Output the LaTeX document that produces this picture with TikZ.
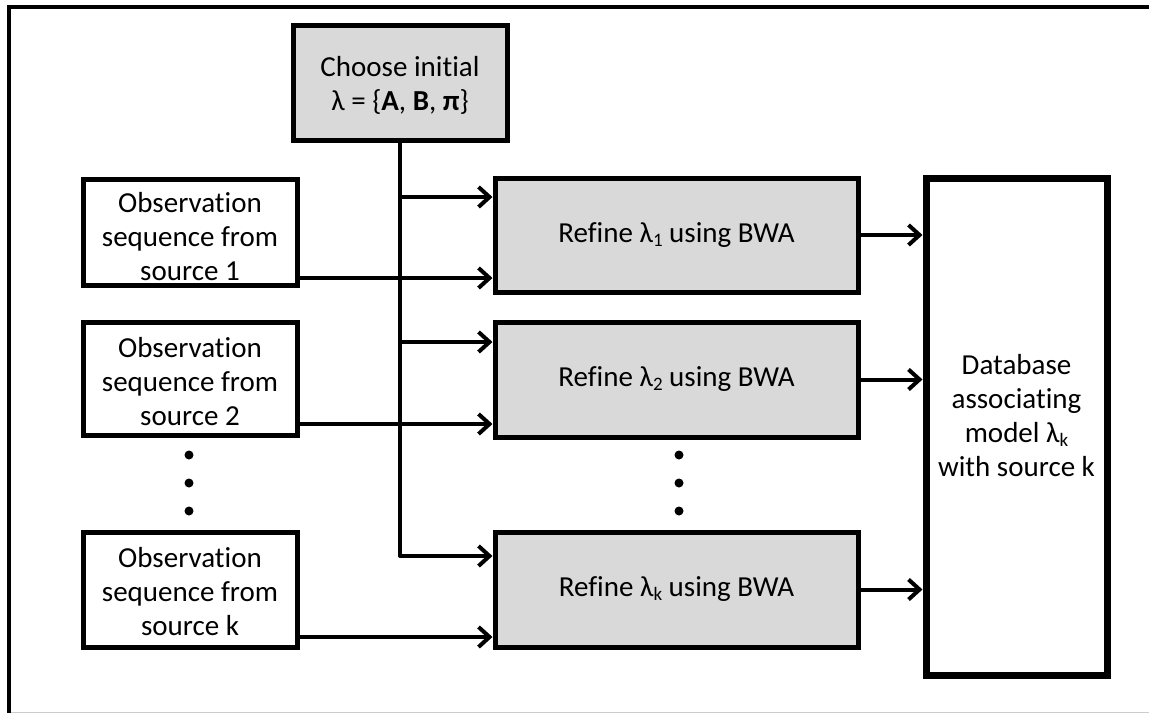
\documentclass[tikz,border=0pt]{standalone}
\usepackage{fontspec}
\setmainfont{Carlito}[RawFeature=-liga]
\usetikzlibrary{arrows.meta,calc}
\definecolor{boxgray}{HTML}{D9D9D9}
\definecolor{rulegray}{HTML}{CCCCCC}
% small lowered index, as in lambda_1
\newcommand{\idx}[1]{\raisebox{-4pt}{\fontsize{19}{19}\selectfont #1}}
\begin{document}
\begin{tikzpicture}[x=1pt,y=-1pt,
  txt/.style={font=\fontsize{29}{34}\selectfont, align=center, inner sep=0pt},
  box/.style={draw, line width=5pt, inner sep=0pt},
  graybox/.style={box, fill=boxgray},
  obsbox/.style={box, minimum width=214pt},
  refbox/.style={graybox, minimum width=363pt},
  wire/.style={line width=4pt},
  arr/.style={line width=4pt, -{Straight Barb[length=11pt,width=20pt]}, line cap=round, line join=round},
  dot/.style={circle, fill=black, inner sep=0pt, minimum size=9pt}
]
\useasboundingbox (0,0) rectangle (1149,713);
% outer frame
\draw[rulegray, line width=1pt] (9,712) -- (1149,712);
\draw[line width=4pt] (1149,7) -- (9,7) -- (9,713);

% initial model
\node[graybox, minimum width=214pt, minimum height=115pt] (init) at (400,82.5) {};
\node[txt] (initt) at (400,85) {Choose initial\\ λ = \{\textbf{A}, \textbf{B}, \textbf{π}\}};

% observation sequences
\node[obsbox, minimum height=106pt] (obs1) at (190,232) {};
\node[obsbox, minimum height=113pt] (obs2) at (190,378.5) {};
\node[obsbox, minimum height=115pt] (obsk) at (190,589.5) {};
\node[txt] (obs1t) at (190,237) {Observation\\ sequence from\\ source 1};
\node[txt] (obs2t) at (190,382) {Observation\\ sequence from\\ source 2};
\node[txt] (obskt) at (190,592) {Observation\\ sequence from\\ source k};

% refinement steps
\node[refbox, minimum height=114pt] (ref1) at (676.5,235) {};
\node[refbox, minimum height=115pt] (ref2) at (676.5,379.5) {};
\node[refbox, minimum height=115pt] (refk) at (676.5,589.5) {};
\node[txt] (ref1t) at (ref1) {Refine λ\idx{1} using BWA};
\node[txt] (ref2t) at (ref2) {Refine λ\idx{2} using BWA};
\node[txt] (refkt) at (refk) {Refine λ\idx{k} using BWA};

% database
\node[draw, line width=7pt, inner sep=0pt, minimum width=181pt, minimum height=497pt] (db) at (1016.5,426.5) {};
\node[txt] (dbtext) at (1016.5,416) {Database\\ associating\\ model λ\idx{k}\\ with source k};

% ellipsis dots
\node[dot] (ld1) at (189,455) {};
\node[dot] (ld2) at (189,483) {};
\node[dot] (ld3) at (189,511) {};
\node[dot] (md1) at (679,455) {};
\node[dot] (md2) at (679,483) {};
\node[dot] (md3) at (679,511) {};

% branch points on the trunk from the initial model
\coordinate (j1) at (init.south |- 0,197);
\coordinate (j2) at (init.south |- 0,342);
\coordinate (jk) at (init.south |- 0,556);
\draw[wire] (init.south) -- (jk);
\draw[arr] (j1) -- (j1 -| ref1.west);
\draw[arr] (j2) -- (j2 -| ref2.west);
\draw[arr] (jk) -- (jk -| refk.west);

% observation inputs
\coordinate (o1) at (obs1.east |- 0,278);
\coordinate (o2) at (obs2.east |- 0,424);
\coordinate (ok) at (obsk.east |- 0,637);
\draw[arr] (o1) -- (o1 -| ref1.west);
\draw[arr] (o2) -- (o2 -| ref2.west);
\draw[arr] (ok) -- (ok -| refk.west);

% refined models into the database
\draw[arr] (ref1.east) -- (ref1.east -| db.west);
\draw[arr] (ref2.east) -- (ref2.east -| db.west);
\draw[arr] (refk.east) -- (refk.east -| db.west);
\end{tikzpicture}
\end{document}
